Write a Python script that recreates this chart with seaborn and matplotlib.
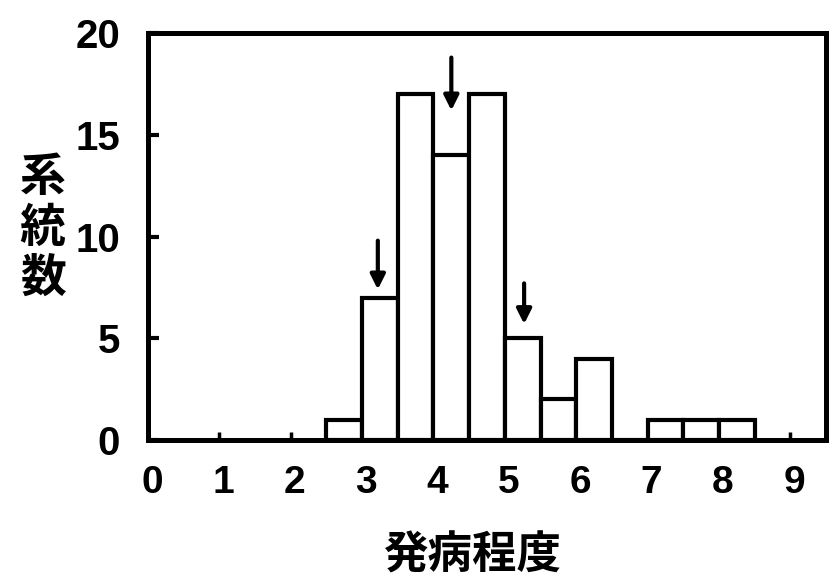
import matplotlib
matplotlib.use("Agg")
import matplotlib.pyplot as plt
import matplotlib.transforms as mtransforms
import pandas as pd
import seaborn as sns

# -------------------------------
# data
# -------------------------------
bin_centers = [2.75, 3.25, 3.75, 4.25, 4.75, 5.25, 5.75, 6.25, 7.25, 7.75, 8.25]
line_counts = [1, 7, 17, 14, 17, 5, 2, 4, 1, 1, 1]

arrow_x = [3.22, 4.25, 5.27]
arrow_top = [9.8, 18.8, 7.7]
arrow_tip = [7.4, 16.2, 5.7]

x_ticks = list(range(10))
y_ticks = [0, 5, 10, 15, 20]

df = pd.DataFrame({"score": bin_centers, "n": line_counts})

sns.set_theme(style="ticks")
plt.rcParams["font.family"] = ["Liberation Sans", "Noto Sans CJK JP", "DejaVu Sans"]
plt.rcParams["text.color"] = "black"
plt.rcParams["xtick.color"] = "black"
plt.rcParams["ytick.color"] = "black"

fig = plt.figure(figsize=(8.33, 5.82), dpi=100)
ax = fig.add_axes([0.1777, 0.244, 0.8139, 0.699])

sns.histplot(data=df, x="score", weights="n", binwidth=0.5, binrange=(2.5, 8.5),
             ax=ax, color="white", edgecolor="black", linewidth=3.0, alpha=1)

for x, y0, y1 in zip(arrow_x, arrow_top, arrow_tip):
    ax.annotate("", xy=(x, y1), xytext=(x, y0),
                arrowprops=dict(arrowstyle="-|>", color="black", lw=3,
                                mutation_scale=22, shrinkA=0, shrinkB=0))

ax.set_xlim(0, 9.5)
ax.set_ylim(0, 20)
ax.set_xticks(x_ticks)
ax.set_yticks(y_ticks)
ax.set_xticklabels([str(t) for t in x_ticks], fontsize=28, fontweight="bold")
ax.set_yticklabels([str(t) for t in y_ticks], fontsize=29, fontweight="bold")
ax.tick_params(axis="x", direction="in", length=6, width=2.5, pad=18)
ax.tick_params(axis="y", direction="in", length=8, width=3, pad=20)
shift = mtransforms.ScaledTranslation(0.04, 0, fig.dpi_scale_trans)
for lab in ax.get_xticklabels():
    lab.set_transform(lab.get_transform() + shift)
for s in ax.spines.values():
    s.set_visible(True)
    s.set_linewidth(3.6)
    s.set_color("black")

ax.set_xlabel("")
ax.set_ylabel("")
fig.text(0.051, 0.607, "系\n統\n数", fontsize=33, fontweight="bold",
         family=["Noto Sans CJK JP"], ha="center", va="center", linespacing=1.12)
fig.text(0.568, 0.046, "発病程度", fontsize=32, fontweight="bold",
         family=["Noto Sans CJK JP"], ha="center", va="center")

fig.savefig("out.png", dpi=100)
